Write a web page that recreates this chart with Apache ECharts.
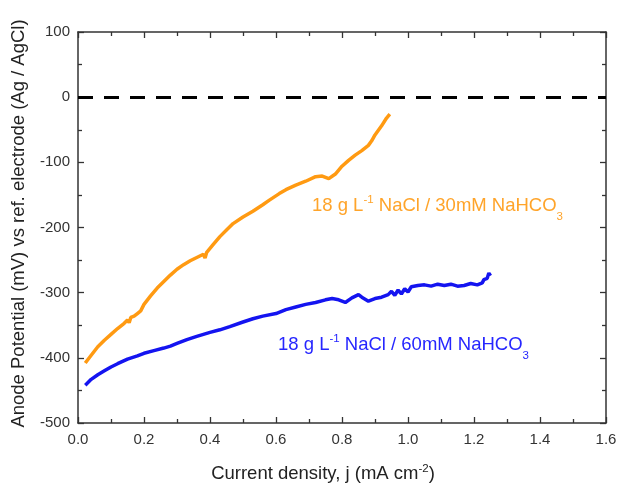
<!DOCTYPE html>
<html>
<head>
<meta charset="utf-8">
<script src="https://cdn.jsdelivr.net/npm/echarts@6/dist/echarts.min.js"></script>
<style>
  html, body { margin: 0; padding: 0; background: #fff; }
  #chart { width: 617px; height: 483px; }
</style>
</head>
<body>
<div id="chart"></div>
<script>
// Anode potential vs current density for two electrolytes
const xTicks = [0, 0.2, 0.4, 0.6, 0.8, 1.0, 1.2, 1.4, 1.6];
const yTicks = [-500, -400, -300, -200, -100, 0, 100];

// 18 g/L NaCl + 30 mM NaHCO3
const j30 = [0.022, 0.04, 0.06, 0.08, 0.10, 0.12, 0.14, 0.15, 0.155, 0.16, 0.17, 0.18, 0.19, 0.20, 0.22, 0.24, 0.26, 0.28, 0.30, 0.32, 0.34, 0.36, 0.38, 0.385, 0.39, 0.41, 0.43, 0.45, 0.47, 0.50, 0.53, 0.56, 0.58, 0.61, 0.63, 0.66, 0.69, 0.72, 0.74, 0.76, 0.78, 0.80, 0.82, 0.84, 0.86, 0.88, 0.89, 0.90, 0.92, 0.935, 0.945];
const e30 = [-408, -396, -383, -373, -364, -355, -347, -342, -346, -338, -336, -332, -328, -318, -305, -293, -283, -273, -264, -257, -251, -246, -241, -247, -238, -226, -214, -204, -194, -184, -175, -165, -158, -148, -142, -135, -129, -122, -121, -125, -118, -106, -97, -89, -82, -74, -67, -58, -44, -32, -26];

// 18 g/L NaCl + 60 mM NaHCO3
const j60 = [0.022, 0.04, 0.06, 0.08, 0.10, 0.12, 0.15, 0.18, 0.20, 0.23, 0.26, 0.28, 0.30, 0.33, 0.36, 0.40, 0.43, 0.46, 0.50, 0.53, 0.56, 0.60, 0.63, 0.66, 0.69, 0.72, 0.75, 0.77, 0.79, 0.81, 0.83, 0.85, 0.86, 0.88, 0.90, 0.92, 0.94, 0.95, 0.96, 0.97, 0.98, 0.99, 1.00, 1.01, 1.03, 1.05, 1.07, 1.09, 1.11, 1.13, 1.15, 1.17, 1.19, 1.21, 1.225, 1.23, 1.24, 1.245, 1.25];
const e60 = [-442, -433, -426, -420, -414, -409, -402, -397, -393, -389, -385, -382, -378, -372, -367, -361, -357, -352, -345, -340, -336, -332, -326, -322, -318, -315, -311, -309, -311, -315, -308, -303, -307, -313, -309, -307, -303, -298, -304, -296, -302, -294, -299, -291, -289, -288, -290, -287, -289, -287, -290, -289, -286, -288, -285, -280, -278, -270, -274];

const label30 = ['18 g L', '-1', ' NaCl / 30mM NaHCO', '3'];
const label60 = ['18 g L', '-1', ' NaCl / 60mM NaHCO', '3'];

const ORANGE = '#ff9a12';
const BLUE = '#1414f0';
const FONT = 'Liberation Sans, Arial, sans-serif';

const pair = (xs, ys) => xs.map((x, i) => [x, ys[i]]);

const chart = echarts.init(document.getElementById('chart'), null, { renderer: 'canvas' });

const axisCommon = {
  axisLine: { onZero: false, lineStyle: { color: '#333', width: 1.5 } },
  axisTick: { inside: true, length: 6, lineStyle: { color: '#333', width: 1.3 } },
  minorTick: { show: true, splitNumber: 2, length: 4, lineStyle: { color: '#333', width: 1.3 } },
  splitLine: { show: false }
};

const xBase = { type: 'value', min: xTicks[0], max: xTicks[xTicks.length - 1], interval: 0.2 };
const yBase = { type: 'value', min: yTicks[0], max: yTicks[yTicks.length - 1], interval: 100 };

const richLabel = (color) => ({
  a: { fontFamily: FONT, fontSize: 18.5, fill: color, color: color, lineHeight: 24 },
  sup: { fontFamily: FONT, fontSize: 11.5, fill: color, color: color, verticalAlign: 'top', lineHeight: 24 },
  sub: { fontFamily: FONT, fontSize: 11.5, fill: color, color: color, verticalAlign: 'bottom', lineHeight: 24, padding: [0, 0, -5, 0] }
});

chart.setOption({
  animation: false,
  backgroundColor: '#fff',
  grid: { left: 78, right: 11, top: 32, bottom: 60, containLabel: false, outerBoundsMode: 'none' },
  xAxis: [
    Object.assign({}, xBase, axisCommon, {
      position: 'bottom',
      axisLabel: { color: '#333', fontFamily: FONT, fontSize: 15, margin: 9, formatter: v => v.toFixed(1) },
      name: '{a|Current density, j (mA cm}{s|-2}{a|)}',
      nameLocation: 'middle',
      nameGap: 40,
      nameTextStyle: {
        padding: [0, 38, 0, 0],
        rich: {
          a: { fontFamily: FONT, fontSize: 18.5, color: '#222', lineHeight: 22 },
          s: { fontFamily: FONT, fontSize: 11.5, color: '#222', verticalAlign: 'top', lineHeight: 22 }
        }
      }
    }),
    Object.assign({}, xBase, axisCommon, {
      position: 'top',
      axisLabel: { show: false }
    })
  ],
  yAxis: [
    Object.assign({}, yBase, axisCommon, {
      position: 'left',
      axisLabel: { color: '#333', fontFamily: FONT, fontSize: 15, margin: 8 },
      name: 'Anode Potential (mV) vs ref. electrode (Ag / AgCl)',
      nameLocation: 'middle',
      nameGap: 50,
      nameTextStyle: { fontFamily: FONT, fontSize: 18.5, color: '#222', padding: [0, 0, 0, 8] }
    }),
    Object.assign({}, yBase, axisCommon, {
      position: 'right',
      axisLabel: { show: false }
    })
  ],
  series: [
    {
      type: 'line',
      data: pair(j30, e30),
      showSymbol: false,
      lineStyle: { color: ORANGE, width: 3.5 },
      itemStyle: { color: ORANGE },
      z: 3,
      markLine: {
        silent: true,
        symbol: 'none',
        label: { show: false },
        lineStyle: { color: '#000', width: 3, type: [15, 11] },
        data: [{ yAxis: 0 }]
      }
    },
    {
      type: 'line',
      data: pair(j60, e60),
      showSymbol: false,
      lineStyle: { color: BLUE, width: 3.5 },
      itemStyle: { color: BLUE },
      z: 3
    }
  ]
});

// Series annotations anchored in data coordinates
function annotation(parts, color, at) {
  const p = chart.convertToPixel({ xAxisIndex: 0, yAxisIndex: 0 }, at);
  return {
    type: 'text',
    x: p[0],
    y: p[1],
    style: {
      text: '{a|' + parts[0] + '}{sup|' + parts[1] + '}{a|' + parts[2] + '}{sub|' + parts[3] + '}',
      rich: richLabel(color),
      fill: color,
      align: 'left',
      verticalAlign: 'middle'
    },
    z: 10
  };
}

chart.setOption({
  graphic: [
    annotation(label30, '#ffa42a', [0.709, -167]),
    annotation(label60, '#2626ff', [0.606, -380])
  ]
});
</script>
</body>
</html>
